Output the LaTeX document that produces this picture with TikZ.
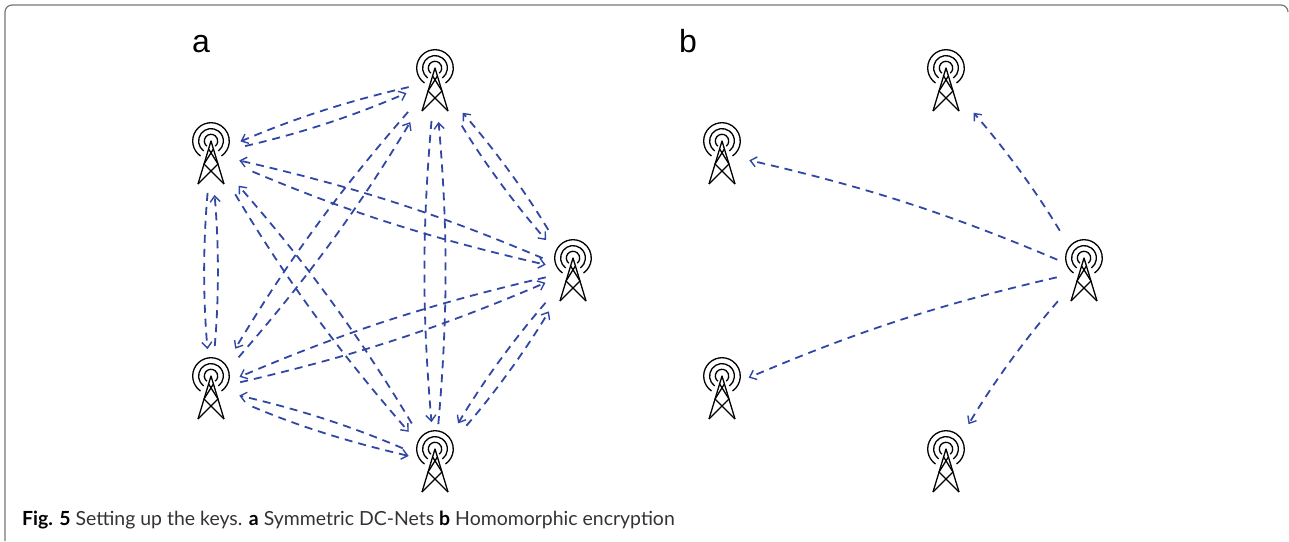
\documentclass[tikz,border=0pt]{standalone}
\usepackage{fontspec}
\setmainfont{Lato}
\newfontfamily\labelfont{Liberation Sans}
\usetikzlibrary{arrows.meta}
\definecolor{linkblue}{HTML}{3047A3}
\definecolor{framegray}{HTML}{777777}
\definecolor{captext}{HTML}{333333}
\tikzset{
  x=1pt,y=-1pt,
  towerline/.style={line width=1.3pt,black},
  tower/.style={inner sep=0pt,outer sep=0pt,minimum width=44pt,minimum height=68pt,
    path picture={
      \begin{scope}[shift={(path picture bounding box.center)}]
        \draw[towerline] (-10.5,2) arc[start angle=125,end angle=415,radius=18.3];
        \draw[towerline] (-7.37,-3.03) arc[start angle=126.5,end angle=413.5,radius=12.4];
        \draw[towerline] (-4.2,-7.8) arc[start angle=129,end angle=411,radius=6.7];
        \draw[towerline,line join=round] (-13,30) -- (0,-13) -- (13,30);
        \draw[towerline] (-2.4,-5) -- (7,10) (2.4,-5) -- (-7,10);
        \draw[towerline] (-7,10) -- (13,30) (7,10) -- (-13,30);
      \end{scope}
    }},
  keylink/.style={draw=linkblue,line width=1.8pt,dash pattern=on 8pt off 6pt,
    -{Straight Barb[length=6pt,width=10pt,line width=1.4pt]}},
  paneltag/.style={font=\labelfont\fontsize{32}{32}\selectfont,inner sep=0pt,anchor=base west},
  captiontext/.style={font=\fontsize{19.45}{20}\selectfont,inner sep=0pt,anchor=base west,text=captext}
}
\begin{document}
\begin{tikzpicture}
\useasboundingbox (0,0) rectangle (1289,541);
\draw[framegray,line width=1.2pt] (5,541) -- (5,12) arc[start angle=180,end angle=270,radius=7] -- (1281,5) arc[start angle=270,end angle=360,radius=7];

\node[paneltag] (taga) at (192,52) {a};
\node[paneltag] (tagb) at (679,52) {b};

\node[tower] (T)  at (435,81)  {};
\node[tower] (TL) at (211,154) {};
\node[tower] (R)  at (573,271) {};
\node[tower] (LB) at (211,389) {};
\node[tower] (B)  at (435,462) {};

\node[tower] (T2)  at (946,81)   {};
\node[tower] (TL2) at (722,154)  {};
\node[tower] (R2)  at (1084,271) {};
\node[tower] (LB2) at (722,389)  {};
\node[tower] (B2)  at (946,462)  {};

\foreach \a/\b/\s/\e in {
  T/TL/27/32, TL/T/35/31,
  R/TL/33/29, TL/R/45/28,
  LB/TL/43/41, TL/LB/39/40,
  B/TL/45/42, TL/B/47/40,
  T/LB/41/47, LB/T/42/48,
  T/B/40/40, B/T/38/41,
  R/T/48/42, T/R/52/41,
  R/LB/28/31, LB/R/30/30,
  B/LB/35/29, LB/B/45/27,
  R/B/42/45, B/R/48/47,
  R2/T2/47/42, R2/TL2/29/28, R2/LB2/28/29, R2/B2/40/44}
  \draw[keylink,shorten <=\s pt,shorten >=\e pt] (\a.center) to[bend right=5] (\b.center);

\node[captiontext] (cap) at (22,525) {\textbf{\textcolor{black}{Fig. 5}} Setting up the keys. \textbf{\textcolor{black}{a}} Symmetric DC-Nets \textbf{\textcolor{black}{b}} Homomorphic encryption};
\end{tikzpicture}
\end{document}
